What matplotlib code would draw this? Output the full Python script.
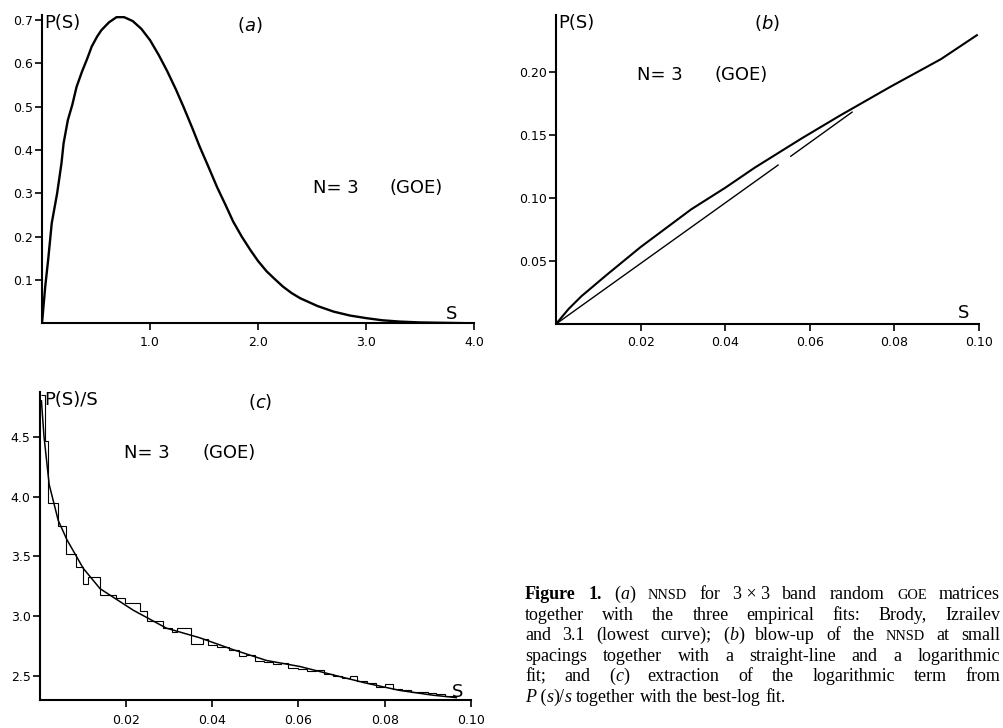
import matplotlib
matplotlib.use('Agg')
import matplotlib.pyplot as plt

# ---- data ----
# (a) NNSD, histogram + fits (they overlap at this scale)
s_a = [0, 0.03, 0.06, 0.09, 0.14, 0.18, 0.20, 0.24, 0.28, 0.32, 0.37, 0.42, 0.46, 0.51,
       0.55, 0.62, 0.69, 0.76, 0.84, 0.92, 1.00, 1.08, 1.16, 1.24, 1.31, 1.39, 1.46, 1.54,
       1.62, 1.70, 1.77, 1.85, 1.93, 2.00, 2.08, 2.16, 2.23, 2.31, 2.39, 2.55, 2.70, 2.85,
       3.00, 3.15, 3.31, 3.50, 3.75, 4.00]
p_a = [0, 0.085, 0.154, 0.231, 0.300, 0.369, 0.416, 0.470, 0.504, 0.546, 0.581, 0.612,
       0.639, 0.662, 0.677, 0.695, 0.707, 0.707, 0.698, 0.680, 0.654, 0.620, 0.582, 0.540,
       0.500, 0.452, 0.408, 0.362, 0.315, 0.273, 0.235, 0.200, 0.169, 0.144, 0.120, 0.101,
       0.085, 0.070, 0.058, 0.040, 0.027, 0.018, 0.012, 0.007, 0.004, 0.002, 0.001, 0.0]

# (b) blow-up at small spacings: histogram / log fit and straight-line fit
s_b = [0, 0.003, 0.006, 0.012, 0.020, 0.032, 0.040, 0.047, 0.058, 0.067, 0.079, 0.091, 0.0995]
p_b = [0, 0.012, 0.022, 0.039, 0.061, 0.091, 0.108, 0.124, 0.147, 0.165, 0.188, 0.210, 0.229]
s_line1 = [0, 0.0525]
p_line1 = [0, 0.126]
s_line2 = [0.0555, 0.070]
p_line2 = [0.133, 0.168]

# (c) P(s)/s: best-log fit and histogram
s_c = [0.0004, 0.001, 0.0022, 0.0043, 0.0063, 0.0101, 0.014, 0.0217, 0.0294, 0.0371,
       0.0449, 0.0526, 0.0603, 0.068, 0.0758, 0.0835, 0.0912, 0.0966]
v_c = [4.80, 4.50, 4.10, 3.80, 3.64, 3.40, 3.23, 3.05, 2.90, 2.82, 2.72, 2.63, 2.58,
       2.51, 2.44, 2.38, 2.34, 2.32]
edges_c = [0.0003, 0.0012, 0.0020, 0.0043, 0.0062, 0.0085, 0.0101, 0.0113, 0.0140, 0.0178,
           0.0198, 0.0232, 0.0248, 0.0286, 0.0306, 0.0318, 0.0350, 0.0378, 0.0390, 0.0412,
           0.0440, 0.0462, 0.0478, 0.0500, 0.0520, 0.0540, 0.0560, 0.0575, 0.0600, 0.0620,
           0.0640, 0.0660, 0.0680, 0.0700, 0.0720, 0.0735, 0.0760, 0.0780, 0.0800, 0.0820,
           0.0840, 0.0860, 0.0880, 0.0900, 0.0920, 0.0940, 0.0966]
hist_c = [4.85, 4.46, 3.95, 3.75, 3.52, 3.41, 3.27, 3.33, 3.18, 3.15, 3.11, 3.04, 2.96,
          2.90, 2.87, 2.90, 2.77, 2.81, 2.76, 2.74, 2.72, 2.67, 2.68, 2.63, 2.62, 2.60,
          2.61, 2.57, 2.56, 2.54, 2.55, 2.52, 2.50, 2.48, 2.50, 2.46, 2.44, 2.41, 2.43,
          2.39, 2.38, 2.37, 2.37, 2.36, 2.35, 2.33]

xt_a = [1, 2, 3, 4]
xl_a = ['1.0', '2.0', '3.0', '4.0']
yt_a = [0.1, 0.2, 0.3, 0.4, 0.5, 0.6, 0.7]
yl_a = ['0.1', '0.2', '0.3', '0.4', '0.5', '0.6', '0.7']
xt_bc = [0.02, 0.04, 0.06, 0.08, 0.10]
xl_bc = ['0.02', '0.04', '0.06', '0.08', '0.10']
yt_b = [0.05, 0.10, 0.15, 0.20]
yl_b = ['0.05', '0.10', '0.15', '0.20']
yt_c = [2.5, 3.0, 3.5, 4.0, 4.5]
yl_c = ['2.5', '3.0', '3.5', '4.0', '4.5']

W, H = 1004, 728
fig = plt.figure(figsize=(W / 100, H / 100), dpi=100)
SANS = 'DejaVu Sans'


def box(l, t, r, b):
    return [l / W, 1 - b / H, (r - l) / W, (b - t) / H]


def px(x, y):
    return x / W, 1 - y / H


def style(ax, xpad):
    for k in ('top', 'right'):
        ax.spines[k].set_visible(False)
    for k in ('left', 'bottom'):
        ax.spines[k].set_linewidth(1.5)
    ax.tick_params(direction='out', length=5, width=1.2, labelsize=9)
    ax.tick_params(axis='x', pad=xpad)
    ax.tick_params(axis='y', pad=1.5)
    for t in ax.get_xticklabels() + ax.get_yticklabels():
        t.set_family(SANS)


# panel (a)
ax_a = fig.add_axes(box(42, 15, 474, 323.3))
ax_a.plot(s_a, p_a, color='black', lw=1.7)
ax_a.set_xlim(0, 4.0)
ax_a.set_ylim(0, 0.712)
ax_a.set_xticks(xt_a, xl_a)
ax_a.set_yticks(yt_a, yl_a)
style(ax_a, 4)

# panel (b)
ax_b = fig.add_axes(box(556, 15, 979, 324))
ax_b.plot(s_b, p_b, color='black', lw=1.5)
ax_b.plot(s_line1, p_line1, color='black', lw=1.0)
ax_b.plot(s_line2, p_line2, color='black', lw=1.0)
ax_b.set_xlim(0, 0.10)
ax_b.set_ylim(0, 0.245)
ax_b.set_xticks(xt_bc, xl_bc)
ax_b.set_yticks(yt_b, yl_b)
style(ax_b, 4)

# panel (c)
ax_c = fig.add_axes(box(39.7, 391.7, 471, 700))
ax_c.stairs(hist_c, edges_c, baseline=None, color='black', lw=0.8)
ax_c.plot(s_c, v_c, color='black', lw=1.1)
ax_c.set_xlim(0, 0.10)
ax_c.set_ylim(2.30, 4.876)
ax_c.set_xticks(xt_bc, xl_bc)
ax_c.set_yticks(yt_c, yl_c)
style(ax_c, 5)

# labels inside the panels
lab = dict(family=SANS, fontsize=13, va='center', ha='left')
fig.text(*px(44, 23), 'P(S)', **lab)
fig.text(*px(313, 188), 'N= 3', **lab)
fig.text(*px(390, 188), '(GOE)', **lab)
fig.text(*px(446, 314), 'S', **lab)
fig.text(*px(558, 23), 'P(S)', **lab)
fig.text(*px(637, 75), 'N= 3', **lab)
fig.text(*px(715, 75), '(GOE)', **lab)
fig.text(*px(958, 313), 'S', **lab)
fig.text(*px(44, 400), 'P(S)/S', **lab)
fig.text(*px(124, 453), 'N= 3', **lab)
fig.text(*px(203, 453), '(GOE)', **lab)
fig.text(*px(452, 692), 'S', **lab)

ser = dict(family='Liberation Serif', fontsize=13, va='center', ha='center')
fig.text(*px(250, 25), '$(a)$', **ser)
fig.text(*px(767, 23), '$(b)$', **ser)
fig.text(*px(260, 402), '$(c)$', **ser)

# ---- justified caption ----
CAP = 13
caption = [
    [[('Figure', 'b')], [('1.', 'b')], [('(', 'r'), ('a', 'i'), (')', 'r')], [('NNSD', 'sc')],
     [('for', 'r')], [('3 × 3', 'r')], [('band', 'r')], [('random', 'r')], [('GOE', 'sc')],
     [('matrices', 'r')]],
    [[(w, 'r')] for w in 'together with the three empirical fits: Brody, Izrailev'.split()],
    [[('and', 'r')], [('3.1', 'r')], [('(lowest', 'r')], [('curve);', 'r')],
     [('(', 'r'), ('b', 'i'), (')', 'r')], [('blow-up', 'r')], [('of', 'r')], [('the', 'r')],
     [('NNSD', 'sc')], [('at', 'r')], [('small', 'r')]],
    [[(w, 'r')] for w in 'spacings together with a straight-line and a logarithmic'.split()],
    [[('fit;', 'r')], [('and', 'r')], [('(', 'r'), ('c', 'i'), (')', 'r')]] +
    [[(w, 'r')] for w in 'extraction of the logarithmic term from'.split()],
    [[('P', 'i'), (' (', 'r'), ('s', 'i'), (')/', 'r'), ('s', 'i')]] +
    [[(w, 'r')] for w in 'together with the best-log fit.'.split()],
]
baselines = [599, 619.6, 640.2, 660.8, 681.4, 702]
left, right = 525, 1000

renderer = fig.canvas.get_renderer()


def make(x, y, txt, st):
    kw = dict(family='Liberation Serif', fontsize=CAP, va='baseline', ha='left')
    if st == 'b':
        kw['weight'] = 'bold'
    elif st == 'i':
        kw['style'] = 'italic'
    elif st == 'sc':
        kw['fontsize'] = CAP * 0.8
    return fig.text(x / W, 1 - y / H, txt, **kw)


def width(t):
    return t.get_window_extent(renderer).width


def measure(txt):
    t = make(0, 0, txt, 'r')
    w = width(t)
    t.remove()
    return w


space = measure('a a') - measure('aa')

for i, (line, yb) in enumerate(zip(caption, baselines)):
    words = []
    for word in line:
        parts = []
        for txt, st in word:
            t = make(left, yb, txt, st)
            parts.append((t, width(t)))
        words.append(parts)
    wsum = sum(w for parts in words for _, w in parts)
    if i < len(caption) - 1:
        gap = (right - left - wsum) / (len(words) - 1)
    else:
        gap = space
    x = left
    for parts in words:
        for t, w in parts:
            t.set_x(x / W)
            x += w
        x += gap

fig.savefig('out.png', dpi=100)
